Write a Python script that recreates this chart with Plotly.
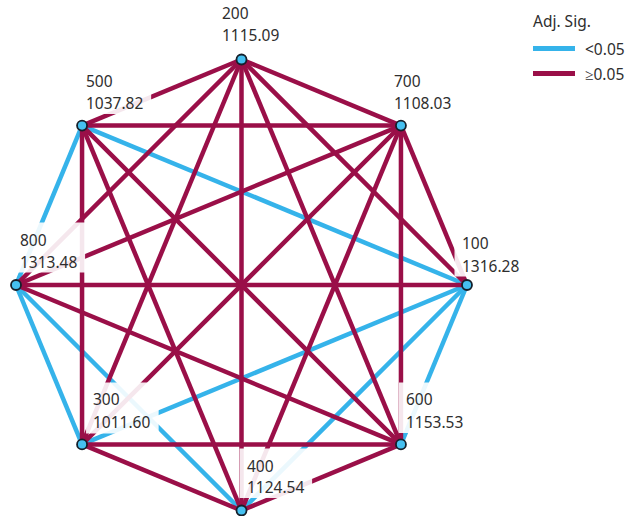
import math
import plotly.graph_objects as go

# Nodes in clockwise order starting at top
nodes = ["200", "700", "100", "600", "400", "300", "800", "500"]
values = [1115.09, 1108.03, 1316.28, 1153.53, 1124.54, 1011.60, 1313.48, 1037.82]

# Pairs with adjusted significance < 0.05; all other pairs >= 0.05
sig_pairs = [("500", "800"), ("500", "100"), ("800", "300"), ("800", "400"),
             ("300", "100"), ("400", "100"), ("600", "100")]

legend_title = "Adj. Sig."
legend_names = ["<0.05", "≥0.05"]

BLUE = "#35b3ea"
PURPLE = "#9a0f48"
NODE_FILL = "#45c0f0"
TEXT = "#2e2e2e"
FONT = "Noto Sans"
FS = 15.5

W, H = 631, 516
cx, cy, r = 241.5, 285.0, 225.5

pos = {}
for i, n in enumerate(nodes):
    ang = math.pi / 2 - i * math.pi / 4
    pos[n] = (cx + r * math.cos(ang), cy - r * math.sin(ang))

sig_set = {frozenset(p) for p in sig_pairs}
bx, by, px, py = [], [], [], []
for i in range(len(nodes)):
    for j in range(i + 1, len(nodes)):
        a, b = nodes[i], nodes[j]
        (x0, y0), (x1, y1) = pos[a], pos[b]
        if frozenset((a, b)) in sig_set:
            bx += [x0, x1, None]; by += [y0, y1, None]
        else:
            px += [x0, x1, None]; py += [y0, y1, None]

fig = go.Figure()
fig.add_trace(go.Scatter(x=bx, y=by, mode="lines", line=dict(color=BLUE, width=4.5),
                         name=legend_names[0], hoverinfo="skip", showlegend=False))
fig.add_trace(go.Scatter(x=px, y=py, mode="lines", line=dict(color=PURPLE, width=4.5),
                         name=legend_names[1], hoverinfo="skip", showlegend=False))
fig.add_trace(go.Scatter(x=[pos[n][0] for n in nodes], y=[pos[n][1] for n in nodes],
                         mode="markers", showlegend=False, cliponaxis=False,
                         marker=dict(size=10, color=NODE_FILL,
                                     line=dict(color="#15202b", width=1.8)),
                         text=nodes, hoverinfo="text"))

# label placement relative to node: (left dx, name line dy, value line dy)
offsets = {"200": (-18, -45, -23), "700": (-4.5, -43, -21), "100": (-3.5, -40.5, -18),
           "600": (7, -43.5, -21), "400": (7, -43.5, -22), "300": (13, -43.5, -20.5),
           "800": (5.5, -44, -22), "500": (5.5, -43, -21)}
DX_FIX, DY_FIX = -4, -1.5

annotations = []
shapes = []
for n, v in zip(nodes, values):
    x, y = pos[n]
    dx, dn, dv = offsets[n]
    left = x + dx + DX_FIX
    vtxt = f"{v:.2f}"
    tw = 8.9 * sum(c.isdigit() for c in vtxt) + 4.2
    # translucent white backing box that partially hides the lines behind the label
    shapes.append(dict(type="rect", xref="x", yref="y", layer="above",
                       x0=left - 5, x1=left + tw + 10,
                       y0=y + dn + DY_FIX - 17, y1=y + dv + DY_FIX + 11,
                       fillcolor="rgba(255,255,255,0.9)", line=dict(width=0)))
    for txt, dy in ((n, dn), (vtxt, dv)):
        annotations.append(dict(
            x=left, y=y + dy + DY_FIX, xref="x", yref="y", xanchor="left", yanchor="middle",
            text=txt, showarrow=False, align="left",
            font=dict(family=FONT, size=FS, color=TEXT),
        ))

# legend (drawn manually)
lx0, lx1 = 533, 575
ly = [48.5, 73.5]
for k, (col, name) in enumerate(zip([BLUE, PURPLE], legend_names)):
    shapes.append(dict(type="line", xref="x", yref="y", x0=lx0, x1=lx1, y0=ly[k], y1=ly[k],
                       line=dict(color=col, width=5)))
    annotations.append(dict(x=583, y=ly[k], xref="x", yref="y", xanchor="left", yanchor="middle",
                            text=name, showarrow=False,
                            font=dict(family=FONT, size=FS, color=TEXT)))
annotations.append(dict(x=531, y=21, xref="x", yref="y", xanchor="left", yanchor="middle",
                        text=legend_title, showarrow=False,
                        font=dict(family=FONT, size=FS, color=TEXT)))

fig.update_layout(
    width=W, height=H, margin=dict(l=0, r=0, t=0, b=0),
    paper_bgcolor="white", plot_bgcolor="white",
    xaxis=dict(range=[0, W], visible=False, fixedrange=True),
    yaxis=dict(range=[H, 0], visible=False, fixedrange=True),
    annotations=annotations, shapes=shapes,
    showlegend=False,
)

fig.write_html("out.html")
